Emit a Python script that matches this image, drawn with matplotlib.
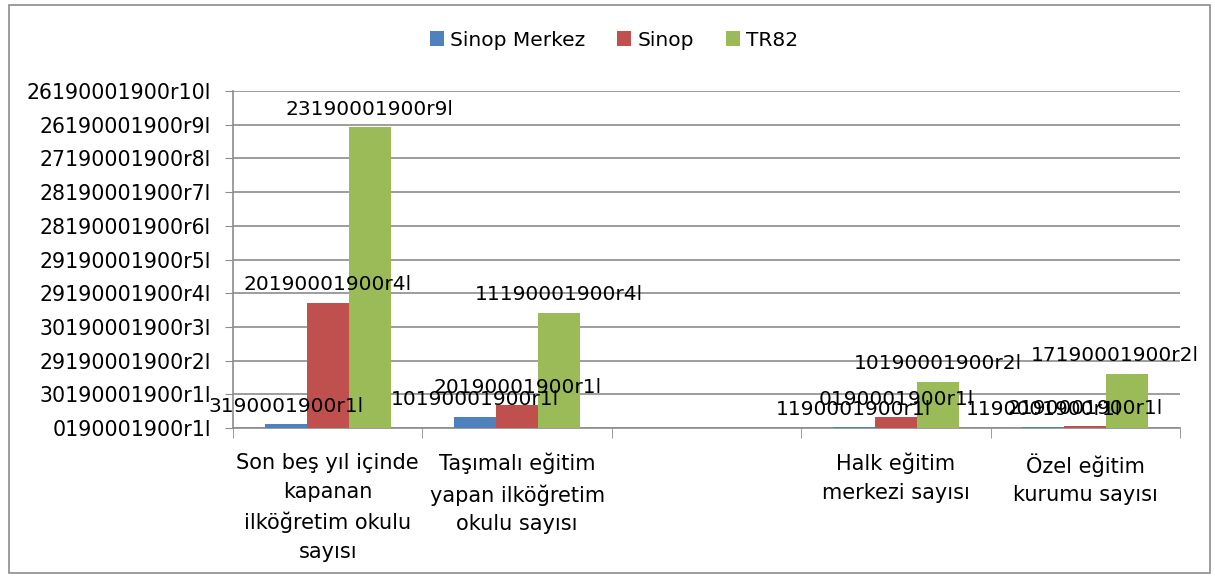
import numpy as np
import matplotlib.pyplot as plt
from matplotlib.patches import Rectangle

# categories (third slot is empty in the source chart)
categories = ["Son beş yıl içinde\nkapanan\nilköğretim okulu\nsayısı",
              "Taşımalı eğitim\nyapan ilköğretim\nokulu sayısı",
              "",
              "Halk eğitim\nmerkezi sayısı",
              "Özel eğitim\nkurumu sayısı"]
series = ["Sinop Merkez", "Sinop", "TR82"]
colors = ["#4F81BD", "#C0504D", "#9BBB59"]

sinop_merkez = [0.12, 0.33, np.nan, 0.03, 0.03]
sinop = [3.72, 0.68, np.nan, 0.33, 0.06]
tr82 = [8.93, 3.42, np.nan, 1.37, 1.61]

labels_merkez = ["3190001900r1l", "10190001900r1l", "", "1190001900r1l", "1190001900r1l"]
labels_sinop = ["20190001900r4l", "20190001900r1l", "", "0190001900r1l", "2190001900r1l"]
labels_tr82 = ["23190001900r9l", "11190001900r4l", "", "10190001900r2l", "17190001900r2l"]

ytick_labels = ["0190001900r1l", "30190001900r1l", "29190001900r2l", "30190001900r3l",
                "29190001900r4l", "29190001900r5l", "28190001900r6l", "28190001900r7l",
                "27190001900r8l", "26190001900r9l", "26190001900r10l"]

plt.rcParams['font.family'] = ['DejaVu Sans']

fig = plt.figure(figsize=(12.15, 5.78), dpi=100)
ax = fig.add_axes([233/1215, 150/578, 947/1215, 337/578])

x = np.arange(len(categories))
w = 1/4.5
values = [sinop_merkez, sinop, tr82]
texts = [labels_merkez, labels_sinop, labels_tr82]
for i, (vals, labs) in enumerate(zip(values, texts)):
    pos = x + (i - 1) * w
    ax.bar(pos, vals, width=w, color=colors[i], label=series[i], zorder=3)
    for p, v, t in zip(pos, vals, labs):
        if t == "" or np.isnan(v):
            continue
        # the last green label is pulled left to stay inside the frame, as in the original
        dx = -9 if (i == 2 and p > 3.5) else 0
        ax.annotate(t, (p, v), xytext=(dx, 6), textcoords="offset points",
                    ha="center", va="bottom", fontsize=14.5, color="black", zorder=4)

ax.set_xlim(-0.5, len(categories) - 0.5)
ax.set_ylim(0, 10)
ax.set_yticks(range(11))
ax.set_yticklabels(ytick_labels, fontsize=14.8)
ax.yaxis.grid(True, color="#8c8c8c", linewidth=1.2, zorder=0)
ax.tick_params(axis="y", length=6, color="#8c8c8c", pad=10)

ax.set_xticks(x)
ax.set_xticklabels(categories, fontsize=15, linespacing=1.55)
ax.tick_params(axis="x", which="major", length=0, pad=18)
ax.set_xticks(np.arange(len(categories) + 1) - 0.5, minor=True)
ax.tick_params(axis="x", which="minor", length=7, color="#8c8c8c")

for s in ["top", "right"]:
    ax.spines[s].set_visible(False)
for s in ["left", "bottom"]:
    ax.spines[s].set_color("#8c8c8c")
    ax.spines[s].set_linewidth(1.2)

fig.legend(loc="center", bbox_to_anchor=(614/1215, 1 - 40/578), ncol=3, frameon=False,
           fontsize=14.5, handlelength=0.7, handleheight=0.7, handletextpad=0.3, columnspacing=1.6)

fig.patches.append(Rectangle((9/1215, 5/578), 1201/1215, 568/578, transform=fig.transFigure,
                             fill=False, edgecolor="#8c8c8c", linewidth=1.2))

fig.savefig("out.png", dpi=100)
